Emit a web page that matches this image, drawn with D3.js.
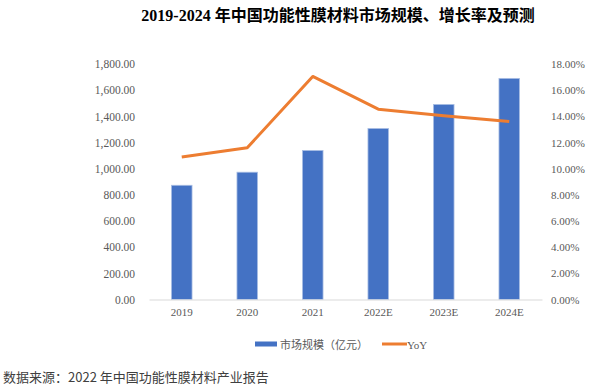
<!DOCTYPE html>
<html><head><meta charset="utf-8">
<script src="https://cdn.jsdelivr.net/npm/d3@7"></script>
<style>body{margin:0;background:#fff}</style>
</head><body><svg id="c" width="600" height="391"></svg>
<script>
const categories = ["2019","2020","2021","2022E","2023E","2024E"];
const marketSize = [873, 973, 1139, 1307, 1491, 1690];
const yoy = [10.9, 11.6, 17.05, 14.55, 14.05, 13.6];
const leftTicks = [0,200,400,600,800,1000,1200,1400,1600,1800];
const rightTicks = [0,2,4,6,8,10,12,14,16,18];

const svg = d3.select("#c");
const serif = "'Liberation Serif','DejaVu Serif','Noto Sans CJK SC',serif";
const L = 149, R = 542, T = 64, B = 299.5;
const x = d3.scaleBand().domain(categories).range([L, R]).paddingInner(0.686).paddingOuter(0.343);
const y = d3.scaleLinear().domain([0,1800]).range([B, T]);
const y2 = d3.scaleLinear().domain([0,18]).range([B, T]);

svg.append("text").attr("x",338).attr("y",21).attr("text-anchor","middle")
  .attr("font-family","'Liberation Serif','Noto Sans CJK SC',serif").attr("font-weight","bold")
  .attr("font-size",16).attr("fill","#000").text("2019-2024 年中国功能性膜材料市场规模、增长率及预测");

const fmtL = d3.format(",.2f");
const gl = svg.append("g").attr("transform",`translate(${L},0)`)
  .call(d3.axisLeft(y).tickValues(leftTicks).tickFormat(fmtL).tickSize(0).tickPadding(14));
gl.select(".domain").remove();
gl.selectAll("text").attr("font-family",serif).attr("font-size",11.5).attr("fill","#595959");

const gr = svg.append("g").attr("transform",`translate(${R},0)`)
  .call(d3.axisRight(y2).tickValues(rightTicks).tickFormat(d=>d3.format(".2f")(d)+"%").tickSize(0).tickPadding(9));
gr.select(".domain").remove();
gr.selectAll("text").attr("font-family",serif).attr("font-size",11).attr("fill","#595959");

svg.selectAll("rect.bar").data(marketSize).enter().append("rect").attr("class","bar")
  .attr("x",(d,i)=>x(categories[i])).attr("width",x.bandwidth())
  .attr("y",d=>y(d)).attr("height",d=>B-y(d))
  .attr("fill","#4472C4").attr("stroke","#A9BEE4").attr("stroke-width",0.8);

const gx = svg.append("g").attr("transform",`translate(0,${B})`)
  .call(d3.axisBottom(x).tickSize(0).tickPadding(9));
gx.select(".domain").attr("stroke","#D9D9D9").attr("stroke-width",1.2);
gx.selectAll("text").attr("font-family",serif).attr("font-size",11).attr("fill","#595959");

const line = d3.line().x((d,i)=>x(categories[i])+x.bandwidth()/2).y(d=>y2(d));
svg.append("path").datum(yoy).attr("d",line).attr("fill","none")
  .attr("stroke","#ED7D31").attr("stroke-width",3).attr("stroke-linejoin","round");

// legend
const lg = svg.append("g");
lg.append("rect").attr("x",255).attr("y",341.5).attr("width",22).attr("height",5).attr("fill","#4472C4");
lg.append("text").attr("x",280).attr("y",348.5).attr("font-family","'Noto Sans CJK SC',serif")
  .attr("font-size",11).attr("fill","#595959").text("市场规模（亿元）");
lg.append("line").attr("x1",382).attr("x2",407).attr("y1",344).attr("y2",344)
  .attr("stroke","#ED7D31").attr("stroke-width",3);
lg.append("text").attr("x",407).attr("y",348.5).attr("font-family",serif)
  .attr("font-size",11).attr("fill","#595959").text("YoY");

svg.append("text").attr("x",3).attr("y",382).attr("font-family","'Noto Sans CJK SC',serif")
  .attr("font-size",13).attr("fill","#404040").text("数据来源：2022 年中国功能性膜材料产业报告");
</script></body></html>
